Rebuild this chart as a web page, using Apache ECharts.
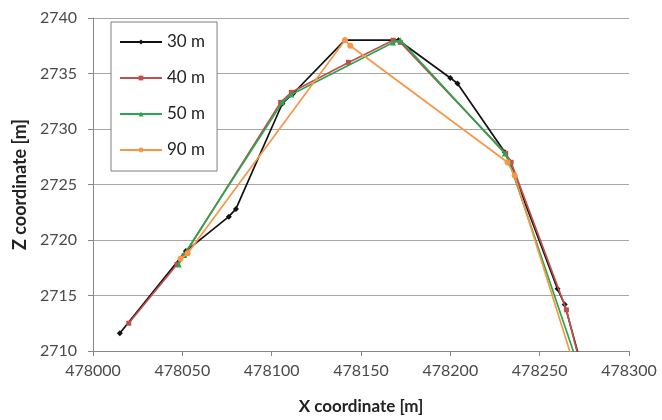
<!DOCTYPE html>
<html><head><meta charset="utf-8">
<script src="https://cdn.jsdelivr.net/npm/echarts@6/dist/echarts.min.js"></script>
<style>html,body{margin:0;padding:0;background:#fff}#c{width:662px;height:420px}</style>
</head><body><div id="c"></div>
<script>
const seriesNames = ['30 m', '40 m', '50 m', '90 m'];
const xTicks = [478000, 478050, 478100, 478150, 478200, 478250, 478300];
const yTicks = [2710, 2715, 2720, 2725, 2730, 2735, 2740];
const s30 = [[478015,2711.6],[478052,2719.0],[478076,2722.1],[478080,2722.8],[478106,2732.3],[478112,2733.2],[478141,2738.0],[478171,2738.0],[478200,2734.6],[478204,2734.1],[478230.5,2727.9],[478233,2727.1],[478260,2715.6],[478264,2714.2],[478274.5,2708]];
const s40 = [[478020,2712.5],[478047,2717.8],[478051,2718.6],[478105,2732.4],[478111,2733.3],[478143,2736.0],[478168,2738.0],[478172,2737.8],[478231,2727.8],[478234,2727.0],[478265,2713.7],[478274,2708]];
const s50 = [[478048,2717.8],[478051,2718.7],[478106,2732.4],[478111,2733.1],[478168,2737.8],[478172,2738.0],[478230.5,2727.8],[478233,2727.0],[478273,2708]];
const s90 = [[478049,2718.3],[478053,2718.8],[478141,2738.0],[478144,2737.5],[478232,2727.0],[478236,2725.8],[478270.7,2708]];
const colors = ['#111111', '#c0504d', '#2aa64f', '#f79646'];
const symbols = ['diamond', 'rect', 'triangle', 'circle'];
const symSizes = [6, 5, 6, 6];
const allData = [s30, s40, s50, s90];

const font = 'Lato, "Open Sans", sans-serif';
const chart = echarts.init(document.getElementById('c'), null, {renderer: 'canvas'});
chart.setOption({
  animation: false,
  backgroundColor: '#fff',
  grid: {left: 93, right: 33, top: 18, bottom: 69, containLabel: false, outerBoundsMode: 'none'},
  legend: {
    orient: 'vertical', left: 111, top: 22,
    data: seriesNames,
    itemWidth: 42, itemHeight: 6, itemGap: 18,
    padding: [11, 12, 12, 8],
    borderColor: '#7f7f7f', borderWidth: 1,
    textStyle: {fontFamily: font, fontSize: 17, color: '#222', lineHeight: 18},
    backgroundColor: '#fff'
  },
  xAxis: {
    type: 'value', min: xTicks[0], max: xTicks[xTicks.length-1], interval: 50,
    name: 'X coordinate [m]', nameLocation: 'middle', nameGap: 47,
    nameTextStyle: {fontFamily: font, fontSize: 17, fontWeight: 'bold', color: '#222'},
    axisLine: {show: true, lineStyle: {color: '#888', width: 1}},
    axisTick: {show: true, length: 5, lineStyle: {color: '#888'}},
    axisLabel: {fontFamily: font, fontSize: 16, color: '#4a4a4a', margin: 12, formatter: v => String(v)},
    splitLine: {show: false}
  },
  yAxis: {
    type: 'value', min: yTicks[0], max: yTicks[yTicks.length-1], interval: 5,
    name: 'Z coordinate [m]', nameLocation: 'middle', nameGap: 64, nameRotate: 90,
    nameTextStyle: {fontFamily: font, fontSize: 18, fontWeight: 'bold', color: '#222'},
    axisLine: {show: true, lineStyle: {color: '#888', width: 1}},
    axisTick: {show: true, length: 5, lineStyle: {color: '#888'}},
    axisLabel: {fontFamily: font, fontSize: 16, color: '#4a4a4a', margin: 16, formatter: v => String(v)},
    splitLine: {show: true, lineStyle: {color: '#a6a6a6', width: 1}}
  },
  series: allData.map((d, i) => ({
    name: seriesNames[i], type: 'line', data: d, clip: true,
    symbol: symbols[i], symbolSize: symSizes[i], showSymbol: true,
    lineStyle: {color: colors[i], width: 1.7},
    itemStyle: {color: colors[i]},
    z: 2 + i
  }))
});
</script></body></html>
